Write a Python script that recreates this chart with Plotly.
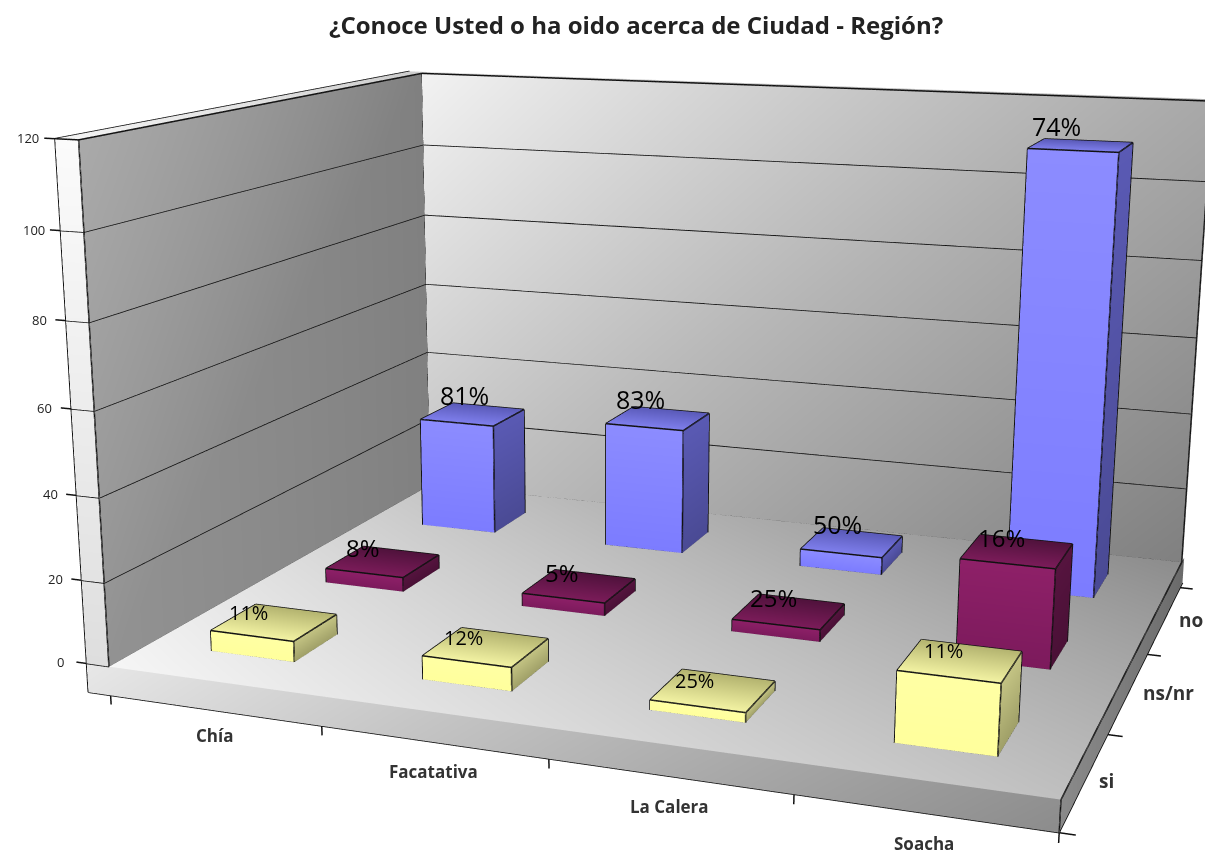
import numpy as np
import plotly.graph_objects as go

categories = ["Chía", "Facatativa", "La Calera", "Soacha"]
series = ["si", "ns/nr", "no"]
si_values = [5, 5.6, 2.3, 16]
nsnr_values = [3.7, 3.3, 3, 24]
no_values = [30, 33.5, 4.6, 111]
si_labels = ["11%", "12%", "25%", "11%"]
nsnr_labels = ["8%", "5%", "25%", "16%"]
no_labels = ["81%", "83%", "50%", "74%"]
z_ticks = [0, 20, 40, 60, 80, 100, 120]

RX, RY, RZ = (-0.5, 4.5), (-0.4, 3.4), (-12, 132)

# camera solved against the reference's wall and floor corners
EYE = (0.6596, -1.9088, 0.4371)
CENTER = (-25.0868, 64.4908, -18.6543)
UP = (-25.8218, 66.6175, 1.0)
ASPECT = (1.0, 0.8022, 0.5296)
CX, CY, FOCAL = 598.4, 486.2, 2346.5
H = 2*FOCAL*np.tan(np.pi/8)
W = H*2.0
LEFT = CX-W/2
TOP = CY-H/2

LW, BW, SL = 0.11, 0.08, -7
xs,ys,zs,cols,I,J,K=[],[],[],[],[],[],[]
def quad(p,c):
    n=len(xs)
    for q,cc in zip(p,c):
        xs.append(q[0]);ys.append(q[1]);zs.append(q[2]);cols.append(cc)
    I.extend([n,n]);J.extend([n+1,n+2]);K.extend([n+2,n+3])
Lx,Ly,Lz=[],[],[]
def seg(a,b):
    Lx.extend([a[0],b[0],None]);Ly.extend([a[1],b[1],None]);Lz.extend([a[2],b[2],None])

X0,X1,Y0,Y1,Z1=0,len(categories),0,len(series),z_ticks[-1]
quad([(X0,Y0,0),(X1,Y0,0),(X1,Y1,0),(X0,Y1,0)],["#f6f6f6","#c0c0c0","#8c8c8c","#c4c4c4"])
quad([(-LW,Y0,SL),(X1,Y0,SL),(X1,Y0,0),(-LW,Y0,0)],["#e4e4e4","#8c8c8c","#909090","#e8e8e8"])
quad([(X1,Y0,SL),(X1,Y1+BW,SL),(X1,Y1+BW,0),(X1,Y0,0)],["#8a8a8a","#6a6a6a","#6a6a6a","#8a8a8a"])
quad([(0,Y0,0),(0,Y1,0),(0,Y1,Z1),(0,Y0,Z1)],["#929292","#808080","#808080","#aaaaaa"])
quad([(-LW,Y0,0),(0,Y0,0),(0,Y0,Z1),(-LW,Y0,Z1)],["#dedede","#dedede","#fbfbfb","#fbfbfb"])
quad([(-LW,Y0,Z1),(0,Y0,Z1),(0,Y1+BW,Z1),(-LW,Y1+BW,Z1)],["#f4f4f4","#f4f4f4","#cccccc","#cccccc"])
quad([(0,Y1,0),(X1,Y1,0),(X1,Y1,Z1),(0,Y1,Z1)],["#c4c4c4","#808080","#a8a8a8","#f2f2f2"])
quad([(0,Y1,Z1),(X1,Y1,Z1),(X1,Y1+BW,Z1),(0,Y1+BW,Z1)],["#dddddd","#aaaaaa","#aaaaaa","#dddddd"])

for z in z_ticks:
    seg((-LW-0.05,Y0,z),(-LW,Y0,z)); seg((-LW,Y0,z),(0,Y0,z))
    seg((0,Y0,z),(0,Y1,z)); seg((0,Y1,z),(X1,Y1,z))
seg((0,Y1,0),(0,Y1,Z1)); seg((0,Y0,0),(0,Y0,Z1)); seg((-LW,Y0,SL),(-LW,Y0,Z1))
seg((-LW,Y0,Z1),(-LW,Y1+BW,Z1))
seg((-LW,Y0,SL),(X1,Y0,SL)); seg((X1,Y0,0),(X1,Y0,SL)); seg((X1,Y0,0),(X1,Y1,0))
seg((X1,Y0,SL),(X1,Y1+BW,SL)); seg((X1,Y1,0),(X1,Y1,Z1))
for i in range(len(categories)+1):
    seg((i,Y0,SL),(i,Y0,SL-2.2))
for j in range(len(series)+1):
    seg((X1,j,SL),(X1+0.06,j,SL))

BAR_W, BAR_D = 0.4, 0.37
pal=[dict(f=("#ffffa4","#ffff9c"),s=("#c4c484","#a0a068"),t=("#f4f4a4","#b4b470")),
     dict(f=("#8e2068","#7c1a5c"),s=("#56143f","#4a1036"),t=("#7c1c5a","#50123c")),
     dict(f=("#8c8cff","#7c7cff"),s=("#5a5ab4","#4a4a94"),t=("#8080ee","#5a5ab8"))]
rows=[si_values,nsnr_values,no_values]
for j,vals in enumerate(rows):
    for i,v in enumerate(vals):
        x0,x1=i+.5-BAR_W/2,i+.5+BAR_W/2; y0,y1=j+.5-BAR_D/2,j+.5+BAR_D/2
        c=pal[j]
        quad([(x0,y0,0),(x1,y0,0),(x1,y0,v),(x0,y0,v)],[c["f"][1],c["f"][1],c["f"][0],c["f"][0]])
        quad([(x1,y0,0),(x1,y1,0),(x1,y1,v),(x1,y0,v)],[c["s"][1],c["s"][1],c["s"][0],c["s"][0]])
        quad([(x0,y0,v),(x1,y0,v),(x1,y1,v),(x0,y1,v)],[c["t"][0],c["t"][0],c["t"][1],c["t"][1]])
        for a,b in [((x0,y0,0),(x1,y0,0)),((x1,y0,0),(x1,y1,0)),((x0,y0,v),(x1,y0,v)),((x1,y0,v),(x1,y1,v)),
                    ((x1,y1,v),(x0,y1,v)),((x0,y1,v),(x0,y0,v)),((x0,y0,0),(x0,y0,v)),((x1,y0,0),(x1,y0,v)),((x1,y1,0),(x1,y1,v))]:
            seg(a,b)

fig=go.Figure()
fig.add_trace(go.Mesh3d(x=xs,y=ys,z=zs,i=I,j=J,k=K,vertexcolor=cols,flatshading=True,hoverinfo="skip",
    lighting=dict(ambient=1,diffuse=0,specular=0,roughness=1,fresnel=0)))
fig.add_trace(go.Scatter3d(x=Lx,y=Ly,z=Lz,mode="lines",line=dict(color="#111111",width=3),hoverinfo="skip"))

ann=[]
F="Open Sans"
def a3(x,y,z,t,size,bold=False,xs_=0,ys_=0,col="#222222"):
    ann.append(dict(x=x,y=y,z=z,text=("<b>%s</b>"%t if bold else t),showarrow=False,xshift=xs_,yshift=ys_,font=dict(family=F,size=size,color=col)))
for z in z_ticks:
    a3(-LW-0.05,Y0,z,str(z),13,xs_=-16)
cat_y=[-25,-29,-30,-30]
for i,c in enumerate(categories):
    a3(i+.5,Y0,SL,c,17,True,ys_=cat_y[i],col="#333333")
for j,s in enumerate(series):
    a3(X1,j+.5,SL,s,19,True,xs_=[22,40,27][j],col="#333333")
sizes=[20,24,25]
xsh=[[-26,-22,-19,-17],[-20,-17,-15,-15],[-8,-17,-14,-24]]
ysh=[10,14,19]
lab=[si_labels,nsnr_labels,no_labels]
for j,(vals,ls) in enumerate(zip(rows,lab)):
    for i,(v,t) in enumerate(zip(vals,ls)):
        a3(i+.5,j+.5,v,t,sizes[j],xs_=xsh[j][i],ys_=ysh[j],col="#000000")

ax=dict(visible=False,showbackground=False,showgrid=False,zeroline=False,showspikes=False)
def d3(v): return dict(x=v[0],y=v[1],z=v[2])
fig.update_layout(width=W,height=H,margin=dict(l=0,r=0,t=0,b=0),paper_bgcolor="white",showlegend=False,
  scene=dict(domain=dict(x=[0,1],y=[0,1]),bgcolor="white",
    xaxis=dict(ax,range=list(RX)),yaxis=dict(ax,range=list(RY)),zaxis=dict(ax,range=list(RZ)),
    aspectmode="manual",aspectratio=d3(ASPECT),
    camera=dict(eye=d3(EYE),center=d3(CENTER),up=d3(UP),projection=dict(type="perspective")),
    annotations=ann),
  annotations=[dict(xref="paper",yref="paper",x=(635-LEFT)/W,y=1-(25-TOP)/H,xanchor="center",yanchor="middle",text="<b>¿Conoce Usted o ha oido acerca de Ciudad - Región?</b>",showarrow=False,font=dict(family=F,size=24,color="#222222"))])
js="document.documentElement.style.overflow='hidden';document.body.style.margin='0';document.body.style.overflow='hidden';var g=document.getElementById('{plot_id}');g.style.position='absolute';g.style.left='%.1fpx';g.style.top='%.1fpx';"%(LEFT,TOP)
fig.write_html("out.html",post_script=js,config=dict(displayModeBar=False))
